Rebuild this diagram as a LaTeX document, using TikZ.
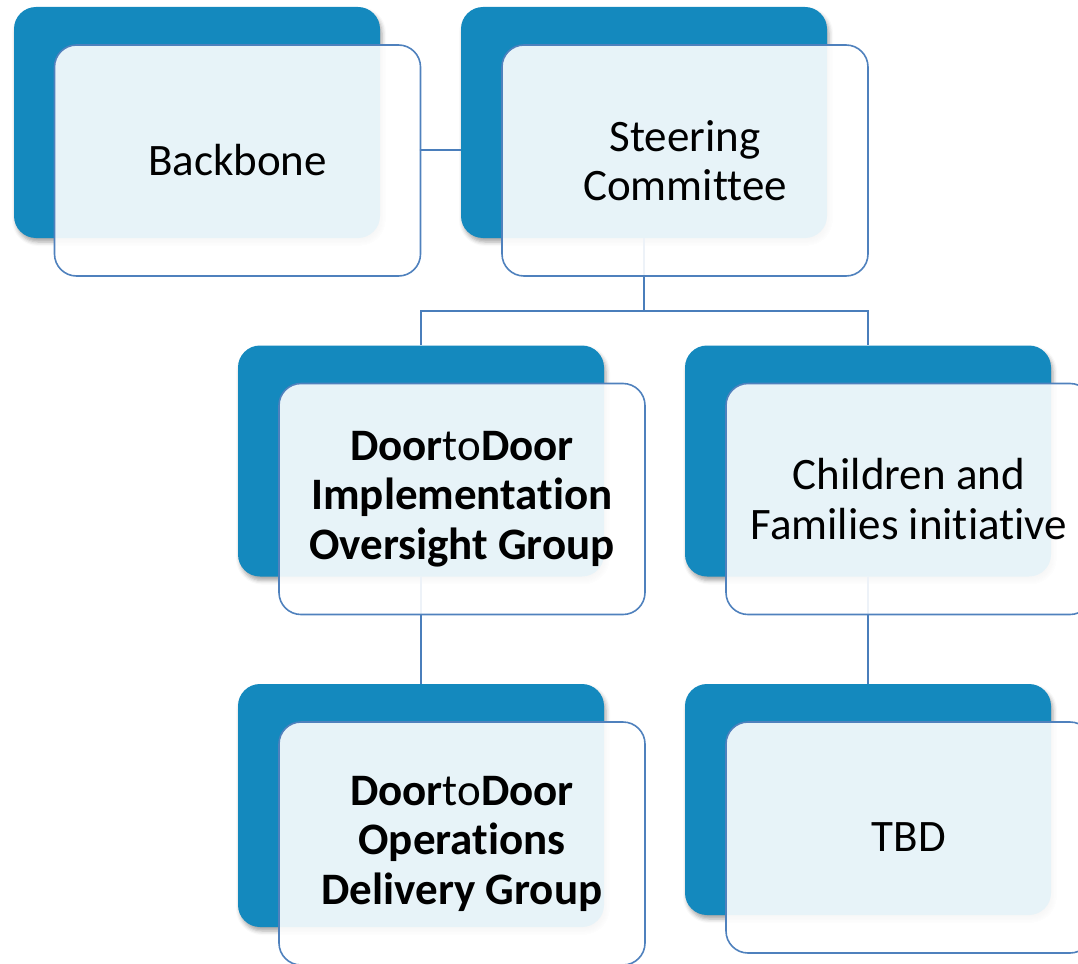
\documentclass[tikz,border=0pt]{standalone}
\usepackage{fontspec}
\setmainfont[Ligatures={NoCommon,NoRare}]{Carlito}
\usetikzlibrary{shadows.blur}
\definecolor{backblue}{RGB}{20,137,190}
\definecolor{edgeblue}{RGB}{79,129,189}
\definecolor{linkblue}{RGB}{74,126,187}
\tikzset{
  backbox/.style={rectangle, rounded corners=22pt, minimum width=366pt, minimum height=#1, inner sep=0pt,
    fill=backblue, draw=none,
    blur shadow={shadow xshift=2pt, shadow yshift=-4pt, shadow blur radius=4pt, shadow opacity=35}},
  backbox/.default=231pt,
  frontbox/.style={rectangle, rounded corners=22pt, minimum width=366pt, minimum height=#1, inner sep=0pt,
    fill=white, fill opacity=0.9, text opacity=1, draw=edgeblue, line width=1.6pt, align=center,
    font=\fontsize{45}{49.5}\selectfont},
  frontbox/.default=231pt,
  link/.style={draw=linkblue, line width=1.8pt}
}
\begin{document}
\begin{tikzpicture}[x=1pt,y=-1pt]
\useasboundingbox (0,0) rectangle (1078,963);
\clip (0,0) rectangle (1078,963);
% back boxes
\node[backbox] (b1) at (197,122.5) {};
\node[backbox] (b2) at (644,122.5) {};
\node[backbox] (b3) at (421,461) {};
\node[backbox] (b4) at (868,461) {};
\node[backbox=243pt] (b5) at (421,805.5) {};
\node[backbox] (b6) at (868,799.5) {};
% connectors (behind front boxes)
\coordinate (bus) at (644,311);
\coordinate (bb) at (419,150);
\draw[link] (bb) -- (b2.west |- bb);
\draw[link] (b2.south) -- (bus) -| (b3.north);
\draw[link] (bus) -| (b4.north);
\draw[link] (b3.south) -- (b5.north);
\draw[link] (b4.south) -- (b6.north);
% front boxes
\node[frontbox] (f1) at (237.5,160.5) {Backbone};
\node[frontbox] (f2) at (685,160.5) {Steering\\Committee};
\node[frontbox] (f3) at (462,499) {\textbf{Door}to\textbf{Door}\\\textbf{Implementation}\\\textbf{Oversight Group}};
\node[frontbox] (f4) at (909,499) {Children and\\Families initiative};
\node[frontbox=243pt] (f5) at (462,843.5) {\textbf{Door}to\textbf{Door}\\\textbf{Operations}\\\textbf{Delivery Group}};
\node[frontbox] (f6) at (909,837.5) {TBD};
\end{tikzpicture}
\end{document}
